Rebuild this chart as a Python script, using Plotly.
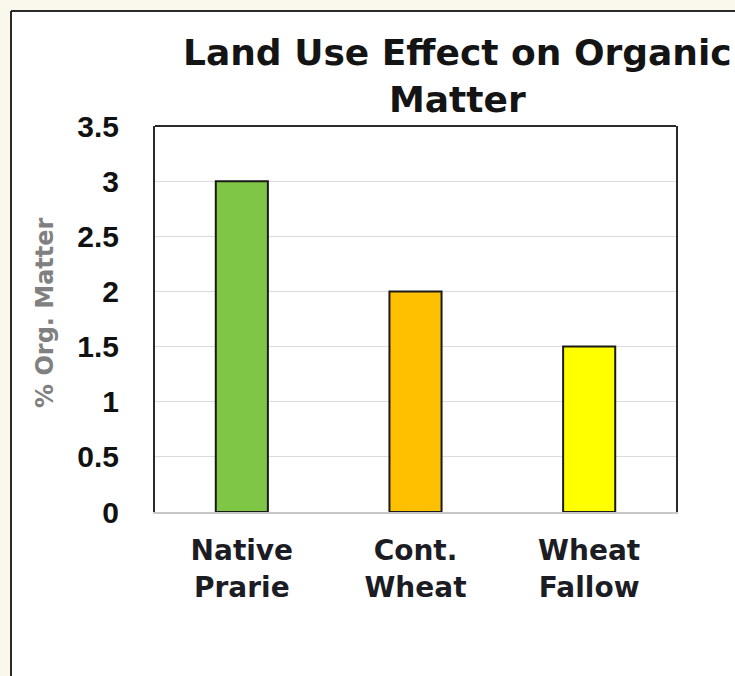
import plotly.graph_objects as go

# Land use categories and their soil organic matter (%)
categories = ["Native<br>Prarie", "Cont.<br>Wheat", "Wheat<br>Fallow"]
org_matter = [3.0, 2.0, 1.5]
bar_colors = ["#80C646", "#FFC000", "#FFFF00"]

y_ticks = [0, 0.5, 1, 1.5, 2, 2.5, 3, 3.5]
y_tick_text = ["0", "0.5", "1", "1.5", "2", "2.5", "3", "3.5"]

W, H = 735, 676
L, R, T, B = 155, 59, 126, 164
pw, ph = W - L - R, H - T - B


def px_x(p):
    return (p - L) / pw


def px_y(p):
    return (H - B - p) / ph


fig = go.Figure()
fig.add_trace(go.Bar(
    x=categories,
    y=org_matter,
    width=0.3,
    marker=dict(color=bar_colors, line=dict(color="#1a1a1a", width=2)),
    hoverinfo="x+y",
))

bold_sans = "DejaVu Sans"
arial = "Liberation Sans, Arial"
frame = "#2a2a2a"

fig.update_layout(
    width=W,
    height=H,
    margin=dict(l=L, r=R, t=T, b=B, autoexpand=False),
    paper_bgcolor="#FAF8EC",
    plot_bgcolor="white",
    showlegend=False,
    xaxis=dict(
        showline=True,
        linecolor="#C8C8C8",
        linewidth=1.5,
        showgrid=False,
        ticks="",
        tickfont=dict(family=bold_sans, size=28, color="#1c1c24", weight="bold"),
        ticklabelstandoff=13,
    ),
    yaxis=dict(
        range=[0, 3.5],
        tickvals=y_ticks,
        ticktext=y_tick_text,
        showline=True,
        mirror=True,
        linecolor=frame,
        linewidth=2,
        showgrid=True,
        gridcolor="#DCDCDC",
        gridwidth=1,
        zeroline=False,
        ticks="",
        tickfont=dict(family=arial, size=30, color="#111111", weight="bold"),
        ticklabelstandoff=28,
    ),
    shapes=[
        # white chart area, outlined on its left and top edges
        dict(type="rect", xref="paper", yref="paper", layer="below",
             x0=px_x(11), x1=px_x(W), y0=px_y(H), y1=px_y(11),
             fillcolor="white", line=dict(width=0)),
        dict(type="line", xref="paper", yref="paper", layer="below",
             x0=px_x(11), x1=px_x(W), y0=px_y(11), y1=px_y(11),
             line=dict(color=frame, width=2)),
        dict(type="line", xref="paper", yref="paper", layer="below",
             x0=px_x(11), x1=px_x(11), y0=px_y(11), y1=px_y(H),
             line=dict(color=frame, width=2)),
        # dark top border of the plotting area
        dict(type="line", xref="paper", yref="paper",
             x0=0, x1=1, y0=1, y1=1,
             line=dict(color=frame, width=2)),
    ],
    annotations=[
        dict(text="Land Use Effect on Organic<br>Matter",
             xref="paper", yref="paper", x=px_x(457), y=px_y(76),
             xanchor="center", yanchor="middle", showarrow=False,
             font=dict(family=bold_sans, size=36, color="#141414", weight="bold")),
        dict(text="% Org. Matter",
             xref="paper", yref="paper", x=px_x(45), y=px_y(313),
             xanchor="center", yanchor="middle", showarrow=False, textangle=-90,
             font=dict(family=bold_sans, size=24, color="#808080", weight="bold")),
    ],
)

fig.write_html("out.html")
